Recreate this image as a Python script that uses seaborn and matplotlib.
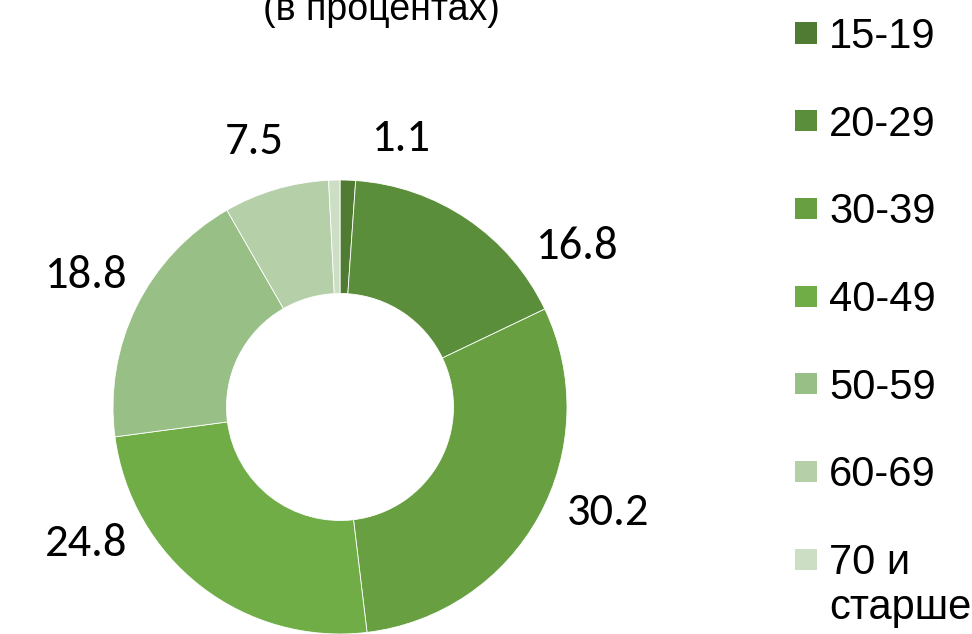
import matplotlib
matplotlib.use("Agg")
import matplotlib.pyplot as plt
import matplotlib.patches as mpatches
import numpy as np
import seaborn as sns

sns.set_theme(style="white")
plt.rcParams['font.family'] = ['Liberation Sans', 'DejaVu Sans']

# ---- data ----
categories = ["15-19", "20-29", "30-39", "40-49", "50-59", "60-69", "70 и\nстарше"]
values = [1.1, 16.8, 30.2, 24.8, 18.8, 7.5, 0.8]
value_labels = ["1.1", "16.8", "30.2", "24.8", "18.8", "7.5", ""]
colors = ["#4F7B32", "#5B8E3B", "#679F41", "#70AD47", "#97BF86", "#B5CFA8", "#CCDFC4"]
title = "(в процентах)"

# label placement (polar: angle in degrees, distance in radii) – layout only
label_angle = [77.4, 34.8, -20.8, -152.4, 152.1, 107.7, 90]
label_dist = [1.232, 1.266, 1.263, 1.263, 1.271, 1.244, 1.2]

W, H = 972, 634
fig = plt.figure(figsize=(W / 100, H / 100), dpi=100)

R_px = 227
ax_px = R_px * 3
cx, cy = 340, H - 407
ax = fig.add_axes([(cx - ax_px / 2) / W, (cy - ax_px / 2) / H, ax_px / W, ax_px / H])

wedges, _ = ax.pie(values, colors=colors, startangle=90, counterclock=False,
                   radius=1.0, wedgeprops=dict(width=0.5, edgecolor="white", linewidth=0.6))
ax.set_xlim(-1.5, 1.5)
ax.set_ylim(-1.5, 1.5)
ax.axis("off")

label_font = ["Carlito", "Lato", "DejaVu Sans"]
for lab, ang, d in zip(value_labels, label_angle, label_dist):
    if not lab:
        continue
    a = np.deg2rad(ang)
    ax.text(d * np.cos(a), d * np.sin(a), lab, ha="center", va="center_baseline",
            fontsize=33.5, family=label_font, color="black")

fig.text(381.5 / W, 1 - 20 / H, title, ha="center", va="baseline", fontsize=27,
         family=["Liberation Sans", "DejaVu Sans"], color="black")

# legend (drawn as figure artists so the square aligns with the first text line)
first_row, row_step, line_step = 33.0, 87.7, 45.0
for i, (cat, col) in enumerate(zip(categories, colors)):
    yc = first_row + i * row_step
    fig.add_artist(mpatches.Rectangle((795 / W, 1 - (yc + 10.5) / H), 22 / W, 21 / H,
                                      transform=fig.transFigure, facecolor=col,
                                      edgecolor="none"))
    for j, line in enumerate(cat.split("\n")):
        fig.text(829 / W, 1 - (yc + 15 + j * line_step) / H, line, ha="left",
                 va="baseline", fontsize=30,
                 family=["Liberation Sans", "DejaVu Sans"], color="black")

fig.savefig("out.png", dpi=100)
